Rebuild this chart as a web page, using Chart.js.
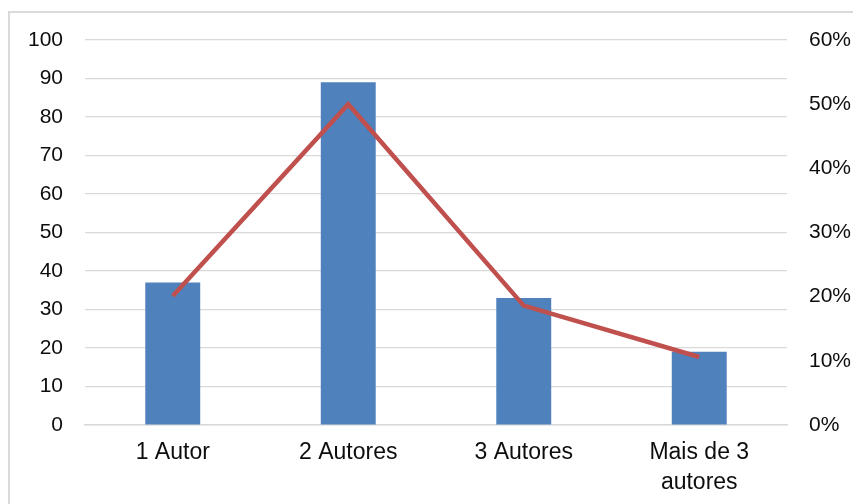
<!DOCTYPE html>
<html>
<head>
<meta charset="utf-8">
<script src="https://cdn.jsdelivr.net/npm/chart.js@4/dist/chart.umd.min.js"></script>
<style>
  html, body { margin: 0; padding: 0; background: #fff; }
  #wrap { position: relative; width: 853px; height: 504px; overflow: hidden; }
  #frame { position: absolute; left: 8px; top: 11px; width: 900px; height: 600px; border: 2.5px solid #D9D9D9; box-sizing: border-box; }
  canvas { position: absolute; left: 0; top: 0; }
</style>
</head>
<body>
<div id="wrap">
  <div id="frame"></div>
  <canvas id="c" width="853" height="504"></canvas>
</div>
<script>
const categories = ["1 Autor", "2 Autores", "3 Autores", ["Mais de 3", "autores"]];
const counts = [37, 89, 33, 19];
const percents = [20.1, 50.0, 18.6, 10.6];
const leftTicks = [0, 10, 20, 30, 40, 50, 60, 70, 80, 90, 100];
const rightTicks = ["0%", "10%", "20%", "30%", "40%", "50%", "60%"];

const tickFont = { family: "'Liberation Sans', Arial, sans-serif", size: 21 };
const xFont = { family: "'Liberation Sans', Arial, sans-serif", size: 23, lineHeight: 1.3 };

new Chart(document.getElementById('c'), {
  data: {
    labels: categories,
    datasets: [
      {
        type: 'line',
        data: percents,
        yAxisID: 'y1',
        borderColor: '#C0504D',
        borderWidth: 4.5,
        pointRadius: 0,
        tension: 0,
        fill: false,
        order: 0
      },
      {
        type: 'bar',
        data: counts,
        yAxisID: 'y',
        backgroundColor: '#4F81BD',
        categoryPercentage: 1,
        barPercentage: 0.313,
        order: 1
      }
    ]
  },
  options: {
    responsive: false,
    animation: false,
    events: [],
    layout: { padding: { top: 40, left: 0, right: 0, bottom: 0 } },
    plugins: { legend: { display: false }, tooltip: { enabled: false } },
    scales: {
      x: {
        offset: true,
        grid: { display: false, drawTicks: false },
        border: { display: true, color: '#D9D9D9', width: 1.5 },
        ticks: { color: '#0d0d0d', font: xFont, padding: 13, maxRotation: 0, autoSkip: false },
        afterFit: s => { s.height = 79; }
      },
      y: {
        position: 'left',
        min: 0, max: 100,
        afterBuildTicks: s => { s.ticks = leftTicks.map(v => ({ value: v })); },
        grid: { color: '#D9D9D9', lineWidth: 1.2, drawTicks: false },
        border: { display: false },
        ticks: { color: '#0d0d0d', font: tickFont, padding: 22 },
        afterFit: s => { s.width = 85; }
      },
      y1: {
        position: 'right',
        min: 0, max: 60,
        afterBuildTicks: s => { s.ticks = rightTicks.map(t => ({ value: parseFloat(t) })); },
        grid: { display: false, drawTicks: false },
        border: { display: false },
        ticks: {
          color: '#0d0d0d', font: tickFont, padding: 22, align: 'center',
          callback: (v) => rightTicks[rightTicks.findIndex(t => parseFloat(t) === v)]
        },
        afterFit: s => { s.width = 66; }
      }
    }
  }
});
</script>
</body>
</html>
